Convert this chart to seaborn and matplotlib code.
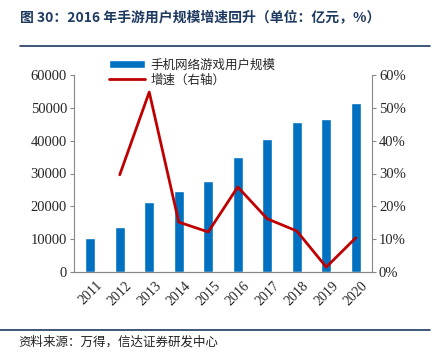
import numpy as np
import pandas as pd
import matplotlib
import matplotlib.pyplot as plt
import seaborn as sns

# data
years = ["2011", "2012", "2013", "2014", "2015", "2016", "2017", "2018", "2019", "2020"]
users = [10500, 13800, 21300, 24700, 27800, 35100, 40600, 45800, 46600, 51600]
growth = [np.nan, 29.6, 54.8, 15.2, 12.2, 25.9, 16.2, 12.5, 1.5, 10.4]

sns.set_style("white")
plt.rcParams['font.family'] = ['Noto Sans CJK SC', 'DejaVu Sans']

df = pd.DataFrame({'year': years, 'users': users, 'growth': growth})
df['pos'] = range(len(df))

fig = plt.figure(figsize=(4.37, 3.58), dpi=100)
ax = fig.add_axes([74 / 437, 1 - 272 / 358, (372 - 74) / 437, (272 - 75) / 358])

sns.barplot(data=df, x='pos', y='users', color='#0070C0', width=0.33,
            saturation=1, ax=ax, label='手机网络游戏用户规模')
ax.set_ylim(0, 60000)
ax.set_xlim(-0.55, 9.55)
ax.set_yticks(range(0, 60001, 10000))
ax.set_xticks(range(len(years)))
ax.set_xticklabels(years, rotation=45, fontsize=10, family='Liberation Serif')
ax.set_yticklabels([str(v) for v in range(0, 60001, 10000)], fontsize=10.5, family='Liberation Serif')
ax.set_xlabel('')
ax.set_ylabel('')

ax2 = ax.twinx()
line_df = df.dropna()
sns.lineplot(data=line_df, x='pos', y='growth', color='#C00000', linewidth=2,
             ax=ax2, label='增速（右轴）', legend=False)
ax2.set_ylim(0, 60)
ax2.set_yticks(range(0, 61, 10))
ax2.set_yticklabels([f'{v}%' for v in range(0, 61, 10)], fontsize=10.5, family='Liberation Serif')
ax2.set_ylabel('')

for a in (ax, ax2):
    for s in a.spines.values():
        s.set_color('#888888')
    a.spines['top'].set_visible(False)
    a.tick_params(axis='both', length=3, color='#888888', pad=2)
ax.spines['right'].set_visible(False)
ax2.spines['left'].set_visible(False)
ax.tick_params(axis='x', length=0, pad=5)

h1, l1 = ax.get_legend_handles_labels()
h2, l2 = ax2.get_legend_handles_labels()
if ax.get_legend():
    ax.get_legend().remove()
ax2.legend(h1 + h2, l1 + l2, loc='upper left', bbox_to_anchor=(0.1, 1.11),
           frameon=False, fontsize=9, handlelength=2.9, handletextpad=0.4,
           labelspacing=0.2, borderaxespad=0)

fig.text(20 / 437, 1 - 18 / 358, '图 30：2016 年手游用户规模增速回升（单位：亿元，%）',
         fontsize=10, fontweight='bold', color='#1F3A60', va='center')
fig.add_artist(matplotlib.lines.Line2D([20 / 437, 430 / 437], [1 - 46 / 358, 1 - 46 / 358],
                                       color='#1F3A60', linewidth=1.2))
fig.add_artist(matplotlib.lines.Line2D([0, 430 / 437], [1 - 330 / 358, 1 - 330 / 358],
                                       color='#1F3A60', linewidth=1.2))
fig.text(18 / 437, 1 - 342 / 358, '资料来源：万得，信达证券研发中心',
         fontsize=9, style='italic', color='#222222', va='center')

fig.savefig('out.png', dpi=100)
